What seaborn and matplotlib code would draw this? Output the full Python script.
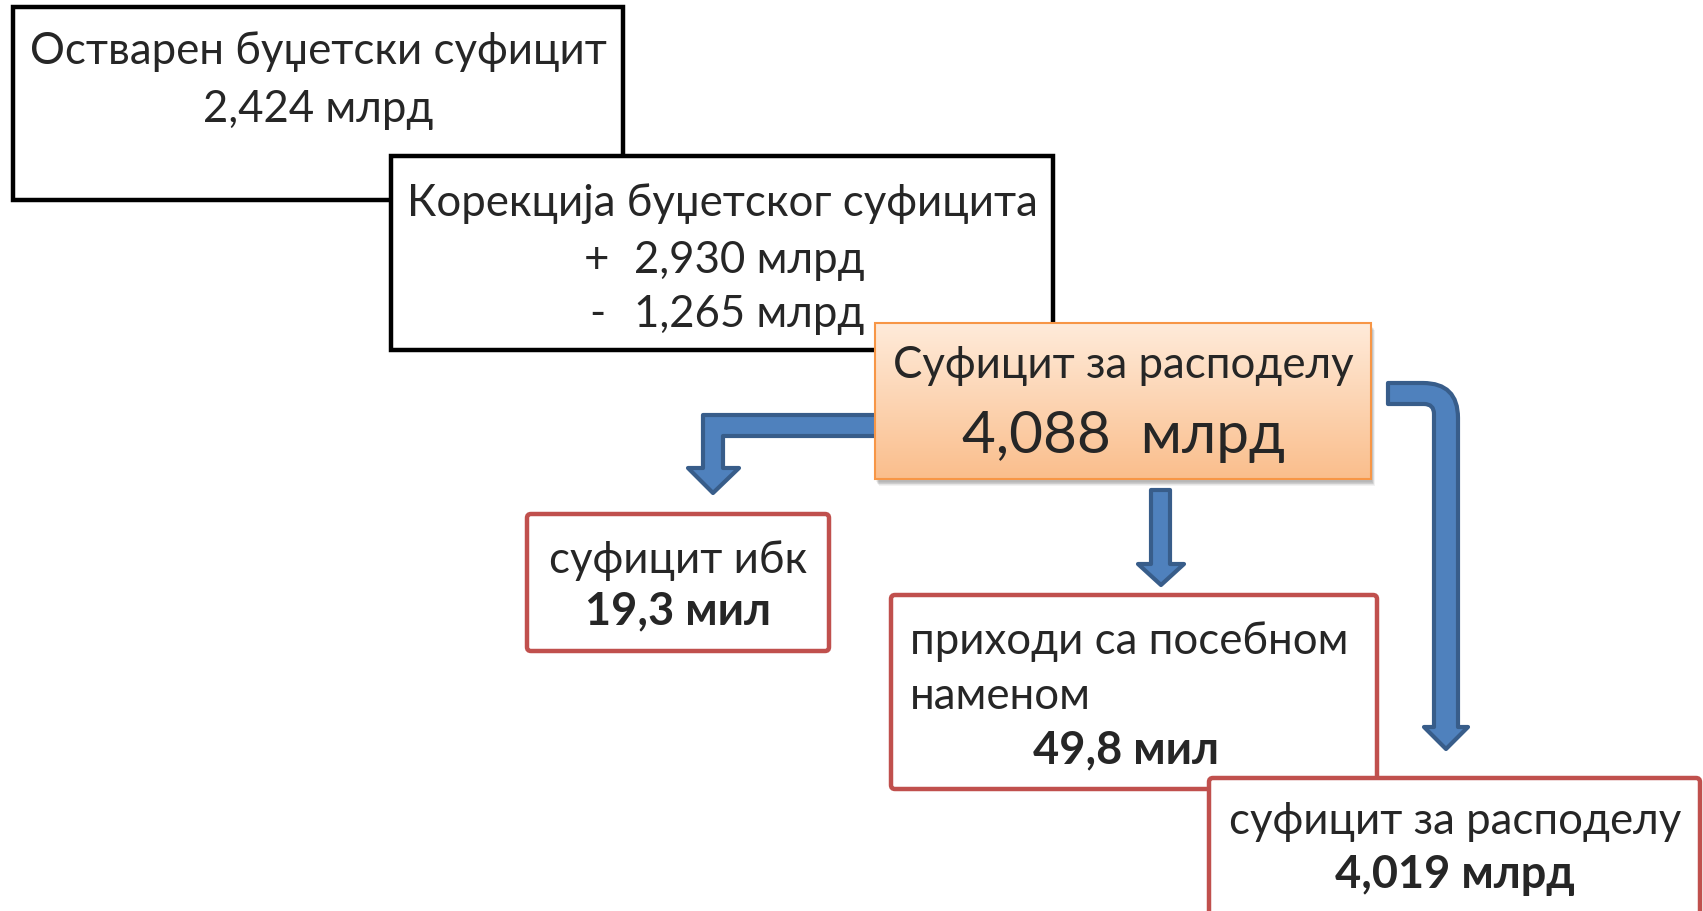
import numpy as np
import matplotlib
matplotlib.use('Agg')
import matplotlib.pyplot as plt
import seaborn as sns
from matplotlib.patches import Rectangle, FancyBboxPatch, PathPatch
from matplotlib.path import Path

# values shown in the diagram
realized_title = 'Остварен буџетски суфицит'
realized_value = '2,424 млрд'
correction_title = 'Корекција буџетског суфицита'
correction_signs = ['+', '-']
correction_values = ['2,930 млрд', '1,265 млрд']
total_title = 'Суфицит за расподелу'
total_value = '4,088  млрд'
split_titles = ['суфицит ибк', 'приходи са посебном\nнаменом', 'суфицит за расподелу']
split_values = ['19,3 мил', '49,8 мил', '4,019 млрд']

sns.set_theme(style='white')
plt.rcParams['font.family'] = ['Lato', 'DejaVu Sans']

W, H = 1703, 912
fig = plt.figure(figsize=(W / 100, H / 100), dpi=100)
ax = fig.add_axes([0, 0, 1, 1])
ax.set_xlim(0, W)
ax.set_ylim(H, 0)
ax.axis('off')

black = '#000000'
red = '#C0504D'
blue_fill = '#4F81BD'
blue_edge = '#385D8A'
fs = 31.5
fb = 32.5

def box(x0, y0, x1, y1, color, lw=3.2, z=1, rounded=False):
    if rounded:
        p = FancyBboxPatch((x0, y0), x1 - x0, y1 - y0, boxstyle='round,pad=0,rounding_size=4',
                           fc='white', ec=color, lw=lw, zorder=z)
    else:
        p = Rectangle((x0, y0), x1 - x0, y1 - y0, fc='white', ec=color, lw=lw, zorder=z)
    ax.add_patch(p)

def arrow(verts, codes, z):
    ax.add_patch(PathPatch(Path(verts, codes), fc=blue_fill, ec=blue_edge, lw=3, zorder=z,
                           joinstyle='round'))

# black boxes
box(13, 8, 623, 201, black, z=1)
ax.text(318, 52, realized_title, ha='center', va='center', fontsize=fs, zorder=2)
ax.text(318, 109, realized_value, ha='center', va='center', fontsize=fs, zorder=2)

box(391, 157, 1053, 351, black, z=3)
ax.text(722, 204, correction_title, ha='center', va='center', fontsize=fs, zorder=4)
for i, (s, v) in enumerate(zip(correction_signs, correction_values)):
    yy = 261 + i * 54
    ax.text(597, yy, s, ha='center', va='center', fontsize=fs, zorder=4)
    ax.text(634, yy, v, ha='left', va='center', fontsize=fs, zorder=4)

# arrows
M, L, C, X = Path.MOVETO, Path.LINETO, Path.CURVE3, Path.CLOSEPOLY
arrow([(880, 416), (703, 416), (703, 469), (688, 469), (713, 494), (739, 469), (723, 469),
       (723, 437), (880, 437), (880, 416)],
      [M, L, L, L, L, L, L, L, L, X], z=5)
arrow([(1151, 491), (1170, 491), (1170, 565), (1184, 565), (1161, 586), (1138, 565), (1151, 565),
       (1151, 491)],
      [M, L, L, L, L, L, L, X], z=5)
arrow([(1388, 384), (1423, 384), (1458, 384), (1458, 419), (1458, 728), (1468, 728), (1446, 750),
       (1424, 728), (1434, 728), (1434, 415), (1434, 405), (1424, 405), (1388, 405), (1388, 384)],
      [M, L, C, C, L, L, L, L, L, L, C, C, L, X], z=5)

# orange box with shadow and gradient
ox0, oy0, ox1, oy1 = 875, 324, 1371, 480
for k in range(6):
    ax.add_patch(Rectangle((ox0 + 1 + k * 0.6, oy0 + 3 + k * 0.8), ox1 - ox0, oy1 - oy0,
                           fc='#000000', ec='none', alpha=0.05, zorder=6))
grad = np.linspace(0, 1, 256)[:, None]
top = np.array([255, 235, 218]) / 255
bottom = np.array([250, 190, 140]) / 255
img = top[None, None, :] * (1 - grad[..., None]) + bottom[None, None, :] * grad[..., None]
ax.imshow(img, extent=(ox0, ox1, oy1, oy0), aspect='auto', zorder=7, interpolation='bilinear')
ax.add_patch(Rectangle((ox0, oy0), ox1 - ox0, oy1 - oy0, fc='none', ec='#F79646', lw=1.5, zorder=8))
ax.set_xlim(0, W)
ax.set_ylim(H, 0)
ax.text(1123, 366, total_title, ha='center', va='center', fontsize=fs, zorder=9)
ax.text(1123, 437, total_value, ha='center', va='center', fontsize=42, zorder=9)

# red boxes
box(527, 515, 829, 652, red, z=10, rounded=True)
ax.text(678, 561, split_titles[0], ha='center', va='center', fontsize=fs, zorder=11)
ax.text(678, 611, split_values[0], ha='center', va='center', fontsize=fb, fontweight='bold', zorder=11)

box(891, 596, 1377, 790, red, z=10, rounded=True)
ax.text(910, 669, split_titles[1], ha='left', va='center', fontsize=fs, linespacing=1.42, zorder=11)
ax.text(1126, 750, split_values[1], ha='center', va='center', fontsize=fb, fontweight='bold', zorder=11)

box(1209, 779, 1700, 935, red, z=12, rounded=True)
ax.text(1455, 822, split_titles[2], ha='center', va='center', fontsize=fs, zorder=13)
ax.text(1455, 875, split_values[2], ha='center', va='center', fontsize=fb, fontweight='bold', zorder=13)

fig.savefig('out.png', dpi=100, facecolor='white')
